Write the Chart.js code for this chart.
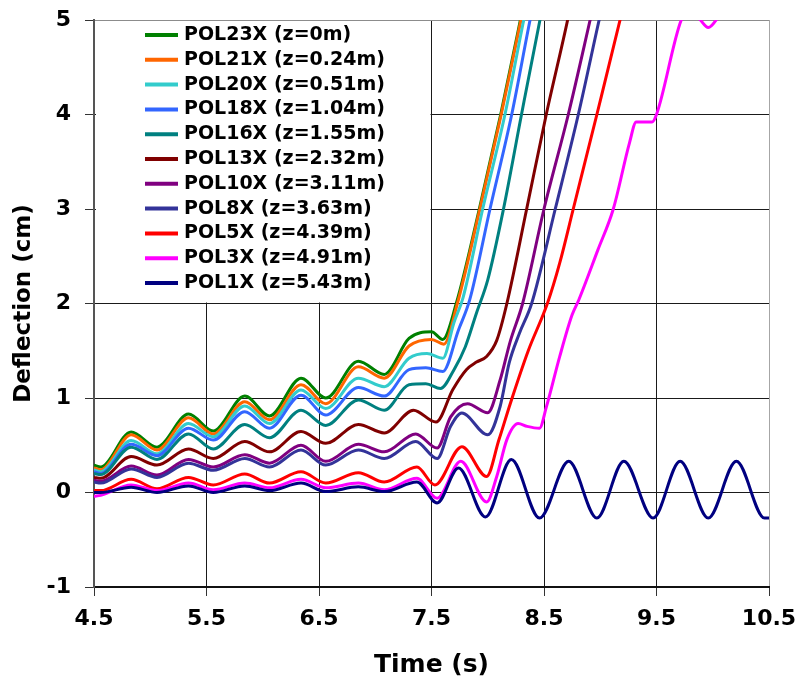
<!DOCTYPE html>
<html>
<head>
<meta charset="utf-8">
<script src="https://cdn.jsdelivr.net/npm/chart.js@4.4.1/dist/chart.umd.min.js"></script>
<style>
  html, body { margin: 0; padding: 0; background: #fff; }
</style>
</head>
<body>
<canvas id="myChart" width="796" height="685"></canvas>
<script>
// time (s), deflection (cm)
var pol23x = [[4.5,0.29],[4.56,0.27],[4.83,0.64],[5.06,0.48],[5.34,0.83],[5.56,0.65],[5.84,1.02],[6.06,0.81],[6.34,1.21],[6.56,1.0],[6.85,1.39],[7.08,1.25],[7.3,1.63],[7.5,1.7],[7.6,1.62],[7.72,2.0],[7.925,3.0],[8.115,4.0],[8.29,5.0],[8.46,6.0]];
var pol21x = [[4.5,0.26],[4.56,0.24],[4.83,0.61],[5.06,0.45],[5.34,0.79],[5.56,0.62],[5.84,0.96],[6.06,0.77],[6.34,1.14],[6.56,0.94],[6.85,1.33],[7.08,1.21],[7.3,1.55],[7.5,1.62],[7.61,1.57],[7.73,2.0],[7.93,3.0],[8.12,4.0],[8.295,5.0],[8.47,6.0]];
var pol20x = [[4.5,0.24],[4.56,0.22],[4.83,0.55],[5.06,0.41],[5.34,0.73],[5.56,0.59],[5.84,0.915],[6.06,0.73],[6.34,1.085],[6.56,0.89],[6.85,1.21],[7.08,1.12],[7.3,1.42],[7.46,1.47],[7.6,1.42],[7.7,1.8],[7.78,2.06],[7.955,3.0],[8.153,4.0],[8.32,5.0],[8.5,6.0]];
var pol18x = [[4.5,0.22],[4.56,0.2],[4.83,0.51],[5.06,0.39],[5.34,0.68],[5.56,0.555],[5.84,0.855],[6.06,0.68],[6.34,1.03],[6.56,0.82],[6.85,1.11],[7.08,1.02],[7.3,1.3],[7.45,1.32],[7.6,1.28],[7.74,1.72],[7.84,2.04],[8.02,3.0],[8.213,4.0],[8.376,5.0],[8.55,6.0]];
var pol16x = [[4.5,0.2],[4.56,0.19],[4.83,0.48],[5.06,0.35],[5.34,0.62],[5.56,0.46],[5.84,0.72],[6.06,0.58],[6.34,0.87],[6.56,0.71],[6.85,0.98],[7.08,0.87],[7.3,1.14],[7.45,1.15],[7.58,1.1],[7.7,1.3],[7.8,1.54],[7.9,1.9],[8.0,2.25],[8.14,3.0],[8.3,4.0],[8.464,5.0],[8.64,6.0]];
var pol13x = [[4.5,0.16],[4.56,0.15],[4.83,0.38],[5.06,0.29],[5.34,0.46],[5.56,0.36],[5.84,0.54],[6.06,0.43],[6.34,0.645],[6.56,0.52],[6.85,0.72],[7.08,0.63],[7.34,0.87],[7.54,0.745],[7.69,1.09],[7.81,1.3],[7.9,1.38],[7.99,1.44],[8.08,1.61],[8.17,2.0],[8.346,3.0],[8.52,4.0],[8.71,5.0],[8.88,6.0]];
var pol10x = [[4.5,0.13],[4.56,0.12],[4.83,0.28],[5.06,0.185],[5.34,0.35],[5.56,0.27],[5.84,0.4],[6.06,0.31],[6.34,0.5],[6.56,0.33],[6.85,0.51],[7.08,0.43],[7.36,0.62],[7.55,0.47],[7.67,0.8],[7.82,0.94],[8.0,0.845],[8.11,1.19],[8.2,1.6],[8.31,2.0],[8.5,3.0],[8.716,4.0],[8.91,5.0],[9.1,6.0]];
var pol8x = [[4.5,0.11],[4.56,0.1],[4.83,0.25],[5.06,0.16],[5.34,0.31],[5.56,0.235],[5.84,0.36],[6.06,0.27],[6.34,0.45],[6.56,0.29],[6.85,0.45],[7.08,0.36],[7.36,0.54],[7.55,0.36],[7.67,0.7],[7.77,0.84],[8.0,0.61],[8.11,0.91],[8.19,1.37],[8.28,1.68],[8.39,2.0],[8.6,3.0],[8.805,4.0],[8.99,5.0],[9.18,6.0]];
var pol5x = [[4.5,0.02],[4.56,0.02],[4.83,0.14],[5.06,0.04],[5.34,0.16],[5.56,0.08],[5.84,0.195],[6.06,0.1],[6.34,0.22],[6.56,0.1],[6.85,0.21],[7.08,0.11],[7.37,0.27],[7.53,0.08],[7.77,0.485],[7.99,0.17],[8.1,0.56],[8.2,0.94],[8.36,1.5],[8.53,2.0],[8.64,2.43],[8.76,3.0],[8.97,4.0],[9.176,5.0],[9.37,6.0]];
var pol3x = [[4.5,-0.04],[4.56,-0.03],[4.83,0.08],[5.06,0.02],[5.34,0.1],[5.56,0.03],[5.84,0.1],[6.06,0.05],[6.34,0.14],[6.56,0.05],[6.85,0.1],[7.08,0.03],[7.37,0.15],[7.55,-0.06],[7.76,0.33],[7.99,-0.1],[8.08,0.17],[8.17,0.56],[8.27,0.73],[8.35,0.7],[8.46,0.68],[8.52,0.9],[8.64,1.44],[8.75,1.88],[8.81,2.04],[8.98,2.57],[9.116,3.0],[9.26,3.7],[9.32,3.92],[9.46,3.92],[9.5,4.0],[9.72,5.0],[9.8,5.12],[9.89,5.0],[9.96,4.92],[10.03,5.0],[10.12,5.2]];
var pol1x = [[4.5,0.0],[4.56,0.0],[4.83,0.055],[5.06,0.0],[5.34,0.07],[5.56,0.0],[5.84,0.07],[6.06,0.02],[6.34,0.1],[6.56,0.01],[6.85,0.06],[7.08,0.01],[7.37,0.11],[7.55,-0.11],[7.74,0.26],[7.98,-0.26],[8.21,0.35],[8.46,-0.27],[8.72,0.33],[8.97,-0.27],[9.21,0.33],[9.47,-0.27],[9.71,0.33],[9.96,-0.27],[10.21,0.33],[10.46,-0.27],[10.5,-0.27]];

var seriesData = [pol23x, pol21x, pol20x, pol18x, pol16x, pol13x, pol10x, pol8x, pol5x, pol3x, pol1x];
var seriesNames = ["POL23X (z=0m)", "POL21X (z=0.24m)", "POL20X (z=0.51m)", "POL18X (z=1.04m)", "POL16X (z=1.55m)", "POL13X (z=2.32m)", "POL10X (z=3.11m)", "POL8X (z=3.63m)", "POL5X (z=4.39m)", "POL3X (z=4.91m)", "POL1X (z=5.43m)"];
var seriesColors = ["#008000", "#ff6600", "#33cccc", "#3366ff", "#008080", "#800000", "#800080", "#333399", "#ff0000", "#ff00ff", "#000080"];

var xTicks = [4.5, 5.5, 6.5, 7.5, 8.5, 9.5, 10.5];
var yTicks = [-1, 0, 1, 2, 3, 4, 5];

var fontFamily = '"DejaVu Sans", Verdana, sans-serif';

// white legend box inside the plot, like the original
var innerLegend = {
    id: 'innerLegend',
    beforeDatasetsDraw: function(chart) {
        var ctx = chart.ctx;
        var area = chart.chartArea;
        var right = chart.scales.x.getPixelForValue(7.5) - 1;
        var bottom = chart.scales.y.getPixelForValue(2) - 1;
        ctx.save();
        ctx.fillStyle = '#fff';
        ctx.fillRect(area.left + 2, area.top + 1, right - area.left - 2, bottom - area.top - 1);
        ctx.font = 'bold 19px ' + fontFamily;
        ctx.textBaseline = 'middle';
        ctx.textAlign = 'left';
        for (var i = 0; i < seriesNames.length; i++) {
            var rowY = area.top + 15 + i * 24.8;
            ctx.strokeStyle = seriesColors[i];
            ctx.lineWidth = 4;
            ctx.beginPath();
            ctx.moveTo(area.left + 51, rowY);
            ctx.lineTo(area.left + 84, rowY);
            ctx.stroke();
            ctx.fillStyle = '#000';
            ctx.fillText(seriesNames[i], area.left + 90, rowY);
        }
        ctx.restore();
    }
};

var datasets = [];
for (var i = 0; i < seriesData.length; i++) {
    datasets.push({
        label: seriesNames[i],
        data: seriesData[i].map(function(p) { return {x: p[0], y: p[1]}; }),
        borderColor: seriesColors[i],
        backgroundColor: seriesColors[i],
        borderWidth: 3,
        pointRadius: 0,
        cubicInterpolationMode: 'monotone',
        fill: false,
        clip: 0,
        order: seriesData.length - i
    });
}

var chartCtx = document.getElementById('myChart');
var myChart = new Chart(chartCtx, {
    type: 'line',
    data: { datasets: datasets },
    plugins: [innerLegend],
    options: {
        responsive: false,
        animation: false,
        devicePixelRatio: 1,
        layout: { padding: { top: 20, right: 27, left: 0, bottom: 0 } },
        plugins: {
            legend: { display: false },
            tooltip: { enabled: false }
        },
        scales: {
            x: {
                type: 'linear',
                min: 4.5,
                max: 10.5,
                afterBuildTicks: function(axis) {
                    axis.ticks = xTicks.map(function(v) { return {value: v}; });
                },
                afterFit: function(axis) {
                    axis.height = 98;
                    axis.paddingLeft = 0;
                    axis.paddingRight = 0;
                },
                grid: {
                    color: function(c) { return c.tick && c.tick.value === 10.5 ? '#a6a6a6' : '#1a1a1a'; },
                    lineWidth: 1,
                    tickLength: 9,
                    tickColor: '#333'
                },
                border: { display: true, color: '#111', width: 2 },
                ticks: {
                    color: '#000',
                    padding: 10,
                    maxRotation: 0,
                    font: { family: fontFamily, size: 22, weight: 'bold' },
                    callback: function(v) { return v.toFixed(1); }
                },
                title: {
                    display: true,
                    text: 'Time (s)',
                    color: '#000',
                    font: { family: fontFamily, size: 25, weight: 'bold' },
                    padding: { top: 0, bottom: 5 }
                }
            },
            y: {
                type: 'linear',
                min: -1,
                max: 5,
                afterBuildTicks: function(axis) {
                    axis.ticks = yTicks.map(function(v) { return {value: v}; });
                },
                afterFit: function(axis) {
                    axis.width = 94;
                    axis.paddingTop = 0;
                    axis.paddingBottom = 0;
                },
                grid: {
                    color: function(c) { return c.tick && c.tick.value === 5 ? '#8c8c8c' : '#1a1a1a'; },
                    lineWidth: 1,
                    tickLength: 9,
                    tickColor: '#333'
                },
                border: { display: true, color: '#555', width: 2 },
                ticks: {
                    color: '#000',
                    padding: 14,
                    font: { family: fontFamily, size: 22, weight: 'bold' },
                    callback: function(v) { return String(v); }
                },
                title: {
                    display: true,
                    text: 'Deflection (cm)',
                    color: '#000',
                    font: { family: fontFamily, size: 23, weight: 'bold' },
                    padding: { top: 10, bottom: 0 }
                }
            }
        }
    }
});
</script>
</body>
</html>
